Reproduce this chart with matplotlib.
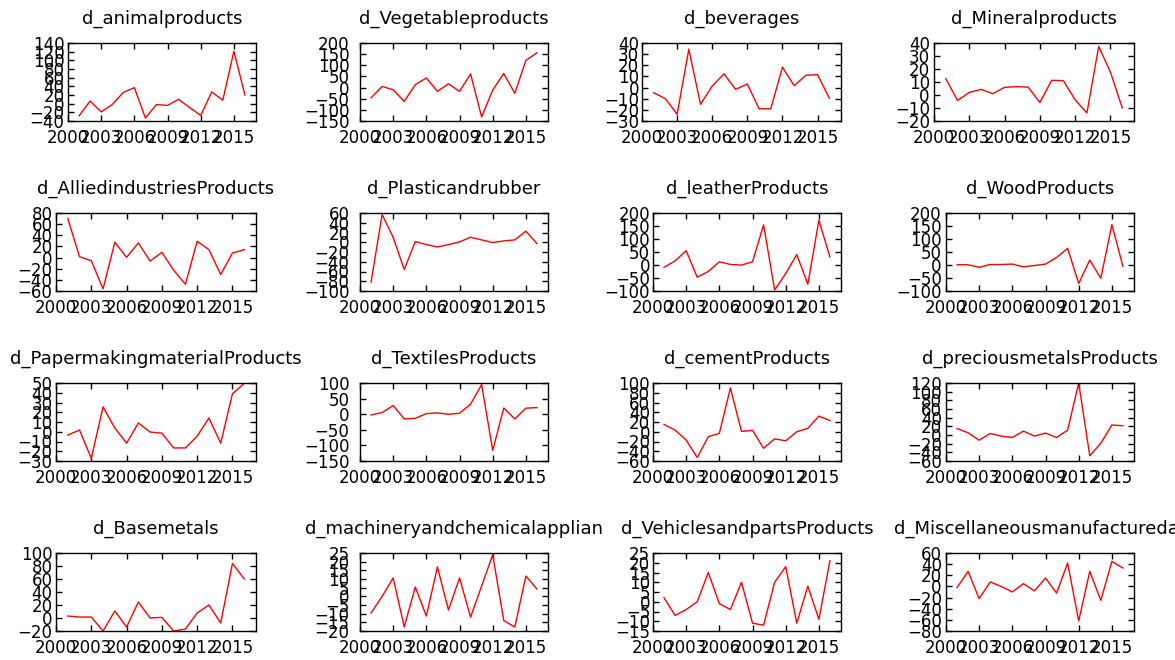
import numpy as np
import matplotlib
matplotlib.use("Agg")
import matplotlib.pyplot as plt

years = list(range(2001, 2017))

animal = [-28, 6, -19, -2, 26, 37, -33, -2, -4, 10, -9, -27, 27, 8, 121, 20]
vegetable = [-46, 5, -10, -62, 13, 43, -17, 17, -17, 61, -132, -11, 63, -26, 122, 156]
beverages = [-4.6, -10, -24, 34.5, -15, 1.4, 12.3, -1.6, 3.2, -19, -19, 18.3, 1.7, 11, 11.6, -9.5]
mineral = [12.6, -4.2, 2, 4.3, 1, 5.9, 6.4, 6.1, -5.8, 11.3, 11, -3.7, -13.8, 37.4, 17.5, -9.9]
allied = [70, 1.6, -5.7, -56, 27.5, 0.4, 26.3, -6.3, 9.4, -22.6, -48, 29.3, 14.2, -30.4, 8.2, 14.2]
plastic = [-82, 57, 10, -56, 1.4, -4.8, -9.7, -4.8, 0.7, 10.3, 4.8, -0.7, 2.8, 4.8, 22.8, -2.8]
leather = [-9, 16, 55, -47, -25, 12.5, 2.2, -0.4, 12.5, 154, -96, -33, 40, -74, 172, 31]
wood = [1, 1, -9, 2, 2, 3.5, -7, -2, 3.5, 29, 64, -71, 19, -51, 155, -5.6]
paper = [-3.4, 1.7, -27.2, 25.5, 3.8, -11.7, 9, -0.3, -1.4, -16.6, -16.6, -4.5, 14.1, -11.7, 39, 49.7]
textiles = [-2.4, 5.2, 27.8, -15.3, -13.1, 1.9, 4.1, -0.2, 3, 32, 95, -116, 20, -15.3, 19.2, 21.3]
cement = [15, 3.4, -17, -53, -10, -3.4, 90, 0.7, 2.8, -34, -14.5, -18.6, 0, 7, 32, 23]
precious = [15, 5, -12, 3.6, -2.6, -5.7, 9, -2.6, 4.4, -5.7, 11.4, 120, -48, -19, 23, 21.5]
basemetals = [3, 1.5, 1.5, -20, 10.8, -14, 24.6, 0, 1, -20, -17, 7.7, 20, -7.7, 84, 60]
machinery = [-9.6, 0, 10.6, -17.7, 5.4, -11.4, 17, -7.9, 10.6, -12, 6, 24, -14, -17.7, 11.7, 4.2]
vehicles = [2, -7, -4, 0, 15, -1, -4, 10, -11, -12, 10, 18, -11, 8, -9, 21]
misc = [-2, 27, -22, 8, 0, -10, 5, -8, 15, -12, 42, -62, 27, -25, 45, 33]

titles = ["d_animalproducts", "d_Vegetableproducts", "d_beverages", "d_Mineralproducts",
          "d_AlliedindustriesProducts", "d_Plasticandrubber", "d_leatherProducts", "d_WoodProducts",
          "d_PapermakingmaterialProducts", "d_TextilesProducts", "d_cementProducts",
          "d_preciousmetalsProducts",
          "d_Basemetals", "d_machineryandchemicalapplian", "d_VehiclesandpartsProducts",
          "d_Miscellaneousmanufacturedar"]
series = [animal, vegetable, beverages, mineral, allied, plastic, leather, wood,
          paper, textiles, cement, precious, basemetals, machinery, vehicles, misc]
# (ymin, ymax, step)
yranges = [(-40, 140, 20), (-150, 200, 50), (-30, 40, 10), (-20, 40, 10),
           (-60, 80, 20), (-100, 60, 20), (-100, 200, 50), (-100, 200, 50),
           (-30, 50, 10), (-150, 100, 50), (-60, 100, 20), (-60, 120, 20),
           (-20, 100, 20), (-20, 25, 5), (-15, 25, 5), (-80, 60, 20)]
xticks = [2000, 2003, 2006, 2009, 2012, 2015]

W, H = 1175, 660
fig = plt.figure(figsize=(W / 100, H / 100), dpi=100)

# axes pixel layout
lefts = [[68, 360, 642, 934],
         [56, 360, 653, 946],
         [56, 360, 653, 946],
         [56, 360, 653, 946]]
rights = [256, 548, 841, 1134]
tops = [43, 213, 383, 553]
ah = 78
ypads = [2.5, 7.5, 2, 3]

for i in range(16):
    r, c = divmod(i, 4)
    l = lefts[r][c]
    ax = fig.add_axes([l / W, 1 - (tops[r] + ah) / H, (rights[c] - l) / W, ah / H])
    ax.plot(years, series[i], color="red", lw=1)
    y0, y1, st = yranges[i]
    ax.set_ylim(y0, y1)
    ax.set_yticks(np.arange(y0, y1 + st / 2, st))
    ax.set_xlim(2000, 2017)
    ax.set_xticks(xticks)
    ax.tick_params(direction="in", top=True, right=True, length=4, width=1,
                   labelsize=12)
    ax.tick_params(axis="x", pad=6)
    ax.tick_params(axis="y", pad=ypads[c])
    for s in ax.spines.values():
        s.set_linewidth(1)
    ax.set_title(titles[i], fontsize=13, pad=14)

fig.savefig("out.png", dpi=100)
